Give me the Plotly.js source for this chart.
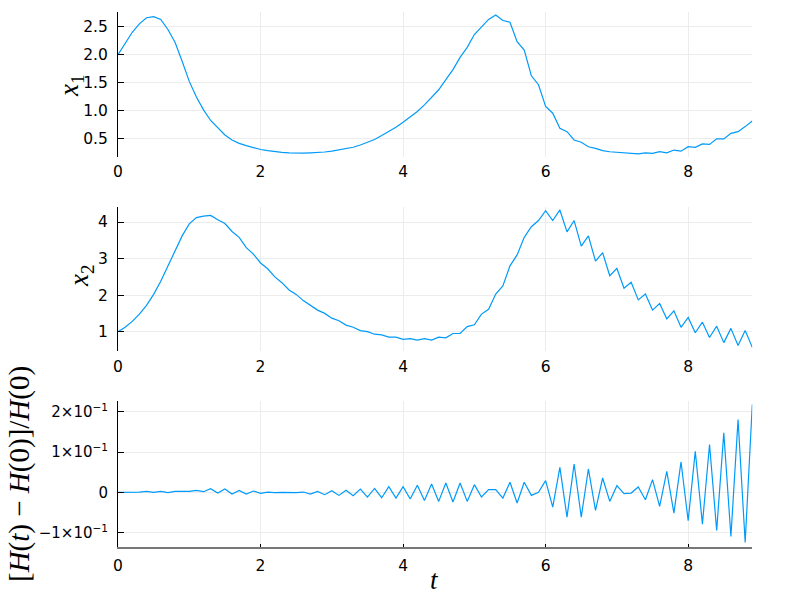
<!DOCTYPE html>
<html>
<head>
<meta charset="utf-8">
<script src="https://cdn.plot.ly/plotly-3.0.1.min.js"></script>
<style>html,body{margin:0;padding:0;background:#fff;}#chart{width:800px;height:600px;}</style>
</head>
<body>
<div id="chart"></div>
<script>
const t = [0.0,0.1,0.2,0.3,0.4,0.5,0.6,0.7,0.8,0.9,
  1.0,1.1,1.2,1.3,1.4,1.5,1.6,1.7,1.8,1.9,
  2.0,2.1,2.2,2.3,2.4,2.5,2.6,2.7,2.8,2.9,
  3.0,3.1,3.2,3.3,3.4,3.5,3.6,3.7,3.8,3.9,
  4.0,4.1,4.2,4.3,4.4,4.5,4.6,4.7,4.8,4.9,
  5.0,5.1,5.2,5.3,5.4,5.5,5.6,5.7,5.8,5.9,
  6.0,6.1,6.2,6.3,6.4,6.5,6.6,6.7,6.8,6.9,
  7.0,7.1,7.2,7.3,7.4,7.5,7.6,7.7,7.8,7.9,
  8.0,8.1,8.2,8.3,8.4,8.5,8.6,8.7,8.8,8.9];

const x1 = [2.00,2.21,2.40,2.55,2.66,2.68,2.63,2.45,2.22,1.88,
  1.52,1.24,1.01,0.82,0.68,0.56,0.47,0.41,0.37,0.33,
  0.30,0.28,0.26,0.25,0.24,0.235,0.235,0.24,0.245,0.255,
  0.27,0.29,0.31,0.34,0.38,0.43,0.48,0.55,0.62,0.70,
  0.79,0.88,0.98,1.10,1.23,1.37,1.55,1.73,1.95,2.13,
  2.36,2.49,2.63,2.71,2.61,2.58,2.23,2.08,1.62,1.46,
  1.07,0.95,0.68,0.62,0.47,0.43,0.35,0.32,0.28,0.26,
  0.25,0.24,0.23,0.22,0.24,0.23,0.26,0.24,0.29,0.27,
  0.35,0.34,0.40,0.39,0.49,0.49,0.59,0.62,0.71,0.81];

const x2 = [1.00,1.12,1.28,1.48,1.72,2.02,2.38,2.78,3.22,3.62,
  3.95,4.12,4.16,4.18,4.06,3.96,3.74,3.58,3.30,3.12,
  2.88,2.72,2.50,2.34,2.14,2.02,1.85,1.73,1.59,1.50,
  1.37,1.30,1.18,1.12,1.03,1.00,0.93,0.91,0.85,0.85,
  0.79,0.81,0.77,0.81,0.77,0.85,0.83,0.95,0.95,1.14,
  1.19,1.48,1.61,2.03,2.25,2.80,3.10,3.58,3.87,4.04,
  4.31,4.04,4.33,3.73,4.04,3.34,3.62,2.93,3.16,2.53,
  2.73,2.19,2.35,1.87,2.03,1.59,1.77,1.35,1.57,1.12,
  1.39,0.97,1.26,0.84,1.15,0.70,1.09,0.62,1.03,0.57];

const dH = [0,0,0,0.0008,0.0025,0,0.0025,-0.0008,0.0025,0.0017,
  0.0025,0.005,0.0017,0.0091,-0.0017,0.0083,-0.0041,0.005,-0.0041,0.0033,
  -0.0025,0.0008,-0.0008,0,-0.0008,-0.0008,0.0008,-0.0041,0.0025,-0.0058,
  0.0041,-0.0075,0.005,-0.0083,0.0083,-0.0116,0.0099,-0.0133,0.0141,-0.0141,
  0.0141,-0.0166,0.0174,-0.0199,0.0207,-0.0224,0.0232,-0.0240,0.0232,-0.0224,
  0.0191,-0.0116,0.0066,0.0066,-0.0141,0.0249,-0.0265,0.0249,-0.0075,0.0,
  0.0290,-0.0365,0.0621,-0.0613,0.0704,-0.0613,0.0580,-0.0447,0.0356,-0.0224,
  0.0166,-0.0033,-0.0017,0.0133,-0.0182,0.0315,-0.0348,0.0522,-0.0514,0.0754,
  -0.0704,0.1019,-0.0787,0.1185,-0.0944,0.1475,-0.1094,0.1806,-0.1243,0.2179];

const xTicks = [0,2,4,6,8];
const y1Ticks = [0.5,1.0,1.5,2.0,2.5];
const y1Text = ['0.5','1.0','1.5','2.0','2.5'];
const y2Ticks = [1,2,3,4];
const y2Text = ['1','2','3','4'];
const y3Ticks = [-0.1,0,0.1,0.2];
const y3Text = ['−1×10<sup>−1</sup>','0','1×10<sup>−1</sup>','2×10<sup>−1</sup>'];

const lineColor = '#009AFA';
const gridColor = '#ececec';
const tickFont = {family:'DejaVu Sans', size:15.5, color:'#000'};
const y3Font = {family:'DejaVu Sans', size:15, color:'#000'};
const serif = 'Liberation Serif, DejaVu Serif, serif';

const traces = [
  {x:t, y:x1, xaxis:'x', yaxis:'y', type:'scatter', mode:'lines', line:{color:lineColor,width:1.2}, showlegend:false},
  {x:t, y:x2, xaxis:'x2', yaxis:'y2', type:'scatter', mode:'lines', line:{color:lineColor,width:1.2}, showlegend:false},
  {x:t, y:dH, xaxis:'x3', yaxis:'y3', type:'scatter', mode:'lines', line:{color:lineColor,width:1.2}, showlegend:false}
];

function xax(anchor, showLine){
  return {anchor:anchor, domain:[118/800, 752.3/800], range:[0,8.9], tickvals:xTicks, ticktext:xTicks.map(String),
    showgrid:true, gridcolor:gridColor, gridwidth:1, zeroline:false,
    showline:showLine, linecolor:'#777', linewidth:2, ticks: showLine?'inside':'', ticklen:3, tickcolor:'#000',
    tickfont:tickFont, ticklabelstandoff:4};
}
function yax(anchor, dom, range, vals, text, font){
  return {anchor:anchor, domain:dom, range:range, tickvals:vals, ticktext:text,
    showgrid:true, gridcolor:gridColor, gridwidth:1, zeroline:false,
    showline:true, linecolor:'#000', linewidth:1, ticks:'inside', ticklen:6, tickcolor:'#000',
    tickfont:font||tickFont, ticklabelstandoff:6};
}

const layout = {
  width:800, height:600,
  margin:{l:0,r:0,t:0,b:0},
  paper_bgcolor:'#fff', plot_bgcolor:'#fff',
  showlegend:false,
  xaxis: xax('y', false),
  xaxis2: xax('y2', false),
  xaxis3: xax('y3', true),
  yaxis: yax('x', [1-156.7/600, 1-12/600], [0.171,2.763], y1Ticks, y1Text),
  yaxis2: yax('x2', [1-351.4/600, 1-206.7/600], [0.46,4.419], y2Ticks, y2Text),
  yaxis3: yax('x3', [1-546.7/600, 1-401.4/600], [-0.1347,0.2255], y3Ticks, y3Text, y3Font),
  annotations: [
    {xref:'paper', yref:'paper', x:71/800, y:1-86/600, xanchor:'center', yanchor:'middle', showarrow:false,
     textangle:-90, text:'<i>x</i><sub>1</sub>', font:{family:serif, size:27, color:'#000'}},
    {xref:'paper', yref:'paper', x:81/800, y:1-276/600, xanchor:'center', yanchor:'middle', showarrow:false,
     textangle:-90, text:'<i>x</i><sub>2</sub>', font:{family:serif, size:27, color:'#000'}},
    {xref:'paper', yref:'paper', x:19/800, y:1-474/600, xanchor:'center', yanchor:'middle', showarrow:false,
     textangle:-90, text:'[<i>H</i>(<i>t</i>) − <i>H</i>(0)]/<i>H</i>(0)', font:{family:serif, size:29, color:'#000'}},
    {xref:'paper', yref:'paper', x:434/800, y:1-580/600, xanchor:'center', yanchor:'middle', showarrow:false,
     text:'<i>t</i>', font:{family:serif, size:27, color:'#000'}}
  ]
};

Plotly.newPlot('chart', traces, layout, {displayModeBar:false, staticPlot:true});
</script>
</body>
</html>
